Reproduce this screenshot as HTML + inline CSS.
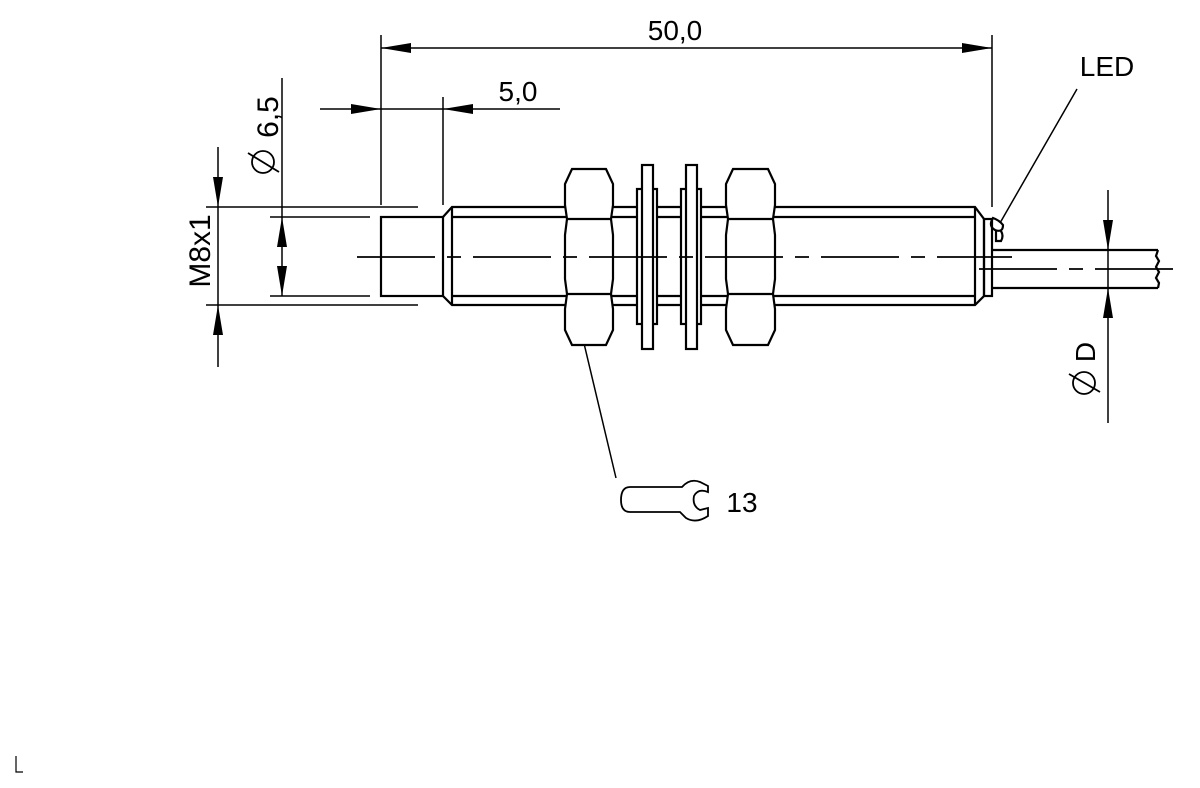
<!DOCTYPE html>
<html><head><meta charset="utf-8"><style>
html,body{margin:0;padding:0;background:#fff;}
svg{display:block;}
text{font-family:"Liberation Sans",sans-serif;fill:#000;}
</style></head><body>
<svg width="1200" height="788" viewBox="0 0 1200 788" xmlns="http://www.w3.org/2000/svg">
<g fill="none" stroke="#000" stroke-width="1.5">
<line x1="381" y1="35" x2="381" y2="205"/>
<line x1="443" y1="97" x2="443" y2="205"/>
<line x1="992" y1="35" x2="992" y2="207"/>
<line x1="282" y1="78" x2="282" y2="296"/>
<line x1="218" y1="147" x2="218" y2="367"/>
<line x1="206" y1="207" x2="418" y2="207"/>
<line x1="206" y1="305" x2="418" y2="305"/>
<line x1="270" y1="217" x2="370" y2="217"/>
<line x1="270" y1="296" x2="370" y2="296"/>
<line x1="381" y1="48" x2="992" y2="48"/>
<line x1="320" y1="109" x2="560" y2="109"/>
<line x1="1108" y1="190" x2="1108" y2="423"/>
<line x1="1077" y1="89" x2="1000" y2="223"/>
<line x1="582" y1="335" x2="616" y2="478"/>
</g>
<g fill="#000">
<polygon points="381,48 411,43 411,53"/>
<polygon points="992,48 962,43 962,53"/>
<polygon points="381,109 351,104 351,114"/>
<polygon points="443,109 473,104 473,114"/>
<polygon points="218,207 213,177 223,177"/>
<polygon points="218,305 213,335 223,335"/>
<polygon points="282,217 277,247 287,247"/>
<polygon points="282,296 277,266 287,266"/>
<polygon points="1108,250 1103,220 1113,220"/>
<polygon points="1108,288 1103,318 1113,318"/>
</g>
<g fill="none" stroke="#000" stroke-width="2.2" stroke-linejoin="miter">
<rect x="381" y="217" width="62" height="79"/>
<polyline points="443,217 452,207 975,207 984,219 984,296 975,305 452,305 443,296"/>
<line x1="452" y1="207" x2="452" y2="305"/>
<line x1="452" y1="217" x2="975" y2="217"/>
<line x1="452" y1="296" x2="975" y2="296"/>
<line x1="975" y1="207" x2="975" y2="305"/>
<rect x="984" y="219" width="8" height="77"/>
<polyline points="992,250 1158,250"/>
<polyline points="992,288 1158,288"/>
<path d="M1158,250 l-2,6 l3,5 l-3,6 l3,5 l-3,6 l3,5 l-1,5"/>
<path d="M993,218 q-5,8 2,12 q8,3 8,-5 q-4,-5 -10,-7 z M996,231 l0,10 l5,0 q3,-5 0,-10"/>
</g>
<g fill="#fff" stroke="#000" stroke-width="2.2">
<rect x="637" y="189" width="20" height="135"/>
<rect x="642" y="165" width="11" height="184"/>
<rect x="681" y="189" width="20" height="135"/>
<rect x="686" y="165" width="11" height="184"/>
<path d="M572,169 L606,169 L613,184 L613,205 L611,219 L613,235 L613,279 L611,294 L613,309 L613,330 L606,345 L572,345 L565,330 L565,309 L567,294 L565,279 L565,235 L567,219 L565,205 L565,184 Z"/>
<path d="M733,169 L768,169 L775,184 L775,205 L773,219 L775,235 L775,279 L773,294 L775,309 L775,330 L768,345 L733,345 L726,330 L726,309 L728,294 L726,279 L726,235 L728,219 L726,205 L726,184 Z"/>
</g>
<g fill="none" stroke="#000" stroke-width="2.2">
<line x1="567" y1="219" x2="611" y2="219"/>
<line x1="567" y1="294" x2="611" y2="294"/>
<line x1="728" y1="219" x2="773" y2="219"/>
<line x1="728" y1="294" x2="773" y2="294"/>
</g>
<g stroke="#000" stroke-width="1.8" fill="none">
<line x1="357" y1="257" x2="1012" y2="257" stroke-dasharray="78,12,14,12"/>
<line x1="979" y1="269" x2="1185" y2="269" stroke-dasharray="78,12,14,12"/>
</g>
<path d="M630,487 L682,487 Q690,478 700,482 L708,486 L708,492 Q698,488 694,496 Q692,506 700,510 L708,508 L708,516 Q696,524 686,518 L680,512 L630,512 Q621,512 621,500 Q621,487 630,487 Z" fill="none" stroke="#000" stroke-width="1.8"/>
<g fill="none" stroke="#000" stroke-width="1.8">
<circle cx="263" cy="162" r="11"/>
<line x1="248" y1="153" x2="279" y2="172"/>
<circle cx="1084" cy="383" r="11"/>
<line x1="1069" y1="374" x2="1100" y2="392"/>
</g>
<text x="675" y="40" font-size="28" text-anchor="middle">50,0</text>
<text x="518" y="101" font-size="28" text-anchor="middle">5,0</text>
<text x="1107" y="76" font-size="28" text-anchor="middle">LED</text>
<text x="742" y="512" font-size="28" text-anchor="middle">13</text>
<text transform="translate(278,117) rotate(-90)" font-size="30" text-anchor="middle">6,5</text>
<text transform="translate(210,251) rotate(-90)" font-size="30" text-anchor="middle">M8x1</text>
<text transform="translate(1095,352) rotate(-90)" font-size="28" text-anchor="middle">D</text>
<polyline points="16,756 16,772 23,772" fill="none" stroke="#000" stroke-width="1.2"/>
</svg>
</body></html>
